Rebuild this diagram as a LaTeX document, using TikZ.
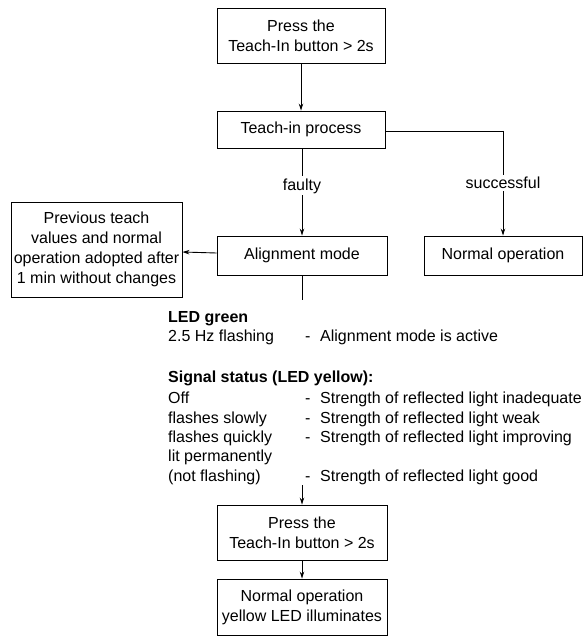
\documentclass[tikz,border=0pt]{standalone}
\usepackage{fontspec}
\setmainfont{Liberation Sans}
\usetikzlibrary{arrows.meta}
\begin{document}
\begin{tikzpicture}[x=1pt,y=-1pt,
  font=\fontsize{16}{20}\selectfont,
  box/.style={draw,line width=0.9pt,align=center,inner sep=0pt},
  conn/.style={line width=0.9pt},
  arr/.style={conn,-{Stealth[length=7pt,width=4.5pt]}},
  lbl/.style={fill=white,inner sep=2pt},
  txt/.style={anchor=base west,inner sep=0pt}]
\useasboundingbox (0,0) rectangle (583,639);
\node[box,minimum width=168pt,minimum height=55pt] (b1) at (301,35.5) {Press the\\Teach-In button > 2s};
\node[box,minimum width=168pt,minimum height=37pt] (b2) at (301,129.5) {Teach-in process};
\node[box,minimum width=170pt,minimum height=39pt] (al) at (302,255.5) {Alignment mode};
\node[box,minimum width=158pt,minimum height=39pt] (no) at (503,255.5) {Normal operation};
\node[box,minimum width=171pt,minimum height=95pt] (pr) at (96.5,249.5) {Previous teach\\values and normal\\operation adopted after\\1 min without changes};
\node[box,minimum width=170pt,minimum height=55pt] (b5) at (302,532.5) {Press the\\Teach-In button > 2s};
\node[box,minimum width=170pt,minimum height=56pt] (b6) at (302,607) {Normal operation\\yellow LED illuminates};
\coordinate (c1) at (503,131);
\coordinate (c2) at (302,300);
\coordinate (c3) at (302,485);
\draw[arr] (b1) -- (b2);
\draw[arr] (b2.south -| al.north) -- node[lbl,pos=0.43]{faulty} (al.north);
\draw[conn] (b2.east |- c1) -- (c1);
\draw[arr] (c1) -- node[lbl,pos=0.5]{successful} (no.north);
\draw[arr] (al) -- (pr);
\draw[conn] (al.south) -- (c2);
\draw[arr] (c3) -- (b5.north);
\draw[arr] (b5) -- (b6);
\node[txt,font=\fontsize{16}{20}\selectfont\bfseries] (t1) at (168,322) {LED green};
\node[txt] (t2) at (168,341) {2.5 Hz flashing};
\node[txt] (t2d) at (305,341) {-};
\node[txt] (t2r) at (320,341) {Alignment mode is active};
\node[txt,font=\fontsize{16}{20}\selectfont\bfseries] (t3) at (168,382) {Signal status (LED yellow):};
\node[txt] (t4) at (168,403) {Off};
\node[txt] (t4d) at (305,403) {-};
\node[txt] (t4r) at (320,403) {Strength of reflected light inadequate};
\node[txt] (t5) at (168,423) {flashes slowly};
\node[txt] (t5d) at (305,423) {-};
\node[txt] (t5r) at (320,423) {Strength of reflected light weak};
\node[txt] (t6) at (168,442) {flashes quickly};
\node[txt] (t6d) at (305,442) {-};
\node[txt] (t6r) at (320,442) {Strength of reflected light improving};
\node[txt] (t7) at (168,461) {lit permanently};
\node[txt] (t8) at (168,481) {(not flashing)};
\node[txt] (t8d) at (305,481) {-};
\node[txt] (t8r) at (320,481) {Strength of reflected light good};
\end{tikzpicture}
\end{document}
